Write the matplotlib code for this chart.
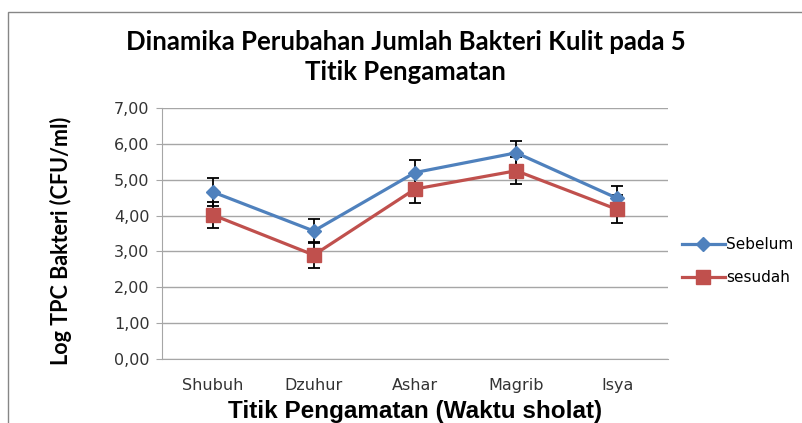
import matplotlib
matplotlib.use("Agg")
import matplotlib.pyplot as plt
from matplotlib.patches import Rectangle
from matplotlib.lines import Line2D
from matplotlib.ticker import FuncFormatter

waktu = ['Shubuh', 'Dzuhur', 'Ashar', 'Magrib', 'Isya']
sebelum = [4.66, 3.57, 5.20, 5.75, 4.48]
sebelum_err = [0.38, 0.34, 0.35, 0.34, 0.35]
sesudah = [4.02, 2.90, 4.74, 5.25, 4.17]
sesudah_err = [0.37, 0.36, 0.40, 0.38, 0.39]

plt.rcParams['font.family'] = ['Lato', 'DejaVu Sans']

fig = plt.figure(figsize=(8.02, 4.23), dpi=100)
ax = fig.add_axes([162 / 802, 1 - 359 / 423, 506 / 802, 251 / 423])

# bingkai luar chart
fig.patches.append(Rectangle((8 / 802, -0.1), 1.2, 1 - 12 / 423 + 0.1,
                             transform=fig.transFigure, fill=False,
                             edgecolor='#868686', linewidth=1.0))

x = list(range(len(waktu)))
ax.errorbar(x, sebelum, yerr=sebelum_err, color='#4F81BD', linewidth=2.3,
            marker='D', markersize=7, ecolor='black', elinewidth=1.3,
            capsize=4, capthick=1.3, zorder=3)
ax.errorbar(x, sesudah, yerr=sesudah_err, color='#C0504D', linewidth=2.3,
            marker='s', markersize=10, ecolor='black', elinewidth=1.3,
            capsize=4, capthick=1.3, zorder=3)

ax.set_xlim(-0.5, 4.5)
ax.set_ylim(0, 7)
ax.set_yticks([0, 1, 2, 3, 4, 5, 6, 7])
ax.yaxis.set_major_formatter(FuncFormatter(lambda v, p: f'{v:.2f}'.replace('.', ',')))
ax.set_xticks(x)
ax.set_xticklabels(waktu, family='DejaVu Sans')
for t in ax.get_yticklabels():
    t.set_family('DejaVu Sans')
ax.grid(axis='y', color='#A6A6A6', linewidth=1.0)
ax.set_axisbelow(True)
for s in ['top', 'right']:
    ax.spines[s].set_visible(False)
ax.spines['left'].set_color('#A6A6A6')
ax.spines['bottom'].set_color('#A6A6A6')
ax.tick_params(axis='y', colors='#A6A6A6', labelcolor='#333333', labelsize=11.5, length=4, pad=5)
ax.tick_params(axis='x', length=0, labelcolor='#333333', labelsize=11.5, pad=14)

fig.text(0.506, 1 - 57 / 423, 'Dinamika Perubahan Jumlah Bakteri Kulit pada 5\nTitik Pengamatan',
         ha='center', va='center', fontsize=18.5, fontweight='bold', linespacing=1.25)
ax.set_ylabel('Log TPC Bakteri (CFU/ml)', fontsize=15.5, fontweight='bold')
ax.yaxis.set_label_coords(-0.178, 0.47)
ax.set_xlabel('Titik Pengamatan (Waktu sholat)', fontsize=17.5, fontweight='bold',
              family='Liberation Sans', labelpad=5)

handles = [
    Line2D([], [], color='#4F81BD', linewidth=2.3, marker='D', markersize=7),
    Line2D([], [], color='#C0504D', linewidth=2.3, marker='s', markersize=10),
]
ax.legend(handles, ['Sebelum', 'sesudah'], loc='center left', bbox_to_anchor=(1.0, 0.39),
          frameon=False, prop={'family': 'DejaVu Sans', 'size': 11},
          handlelength=2.8, labelspacing=1.15, handletextpad=0.1, borderaxespad=0.5)

fig.savefig('out.png', dpi=100)
